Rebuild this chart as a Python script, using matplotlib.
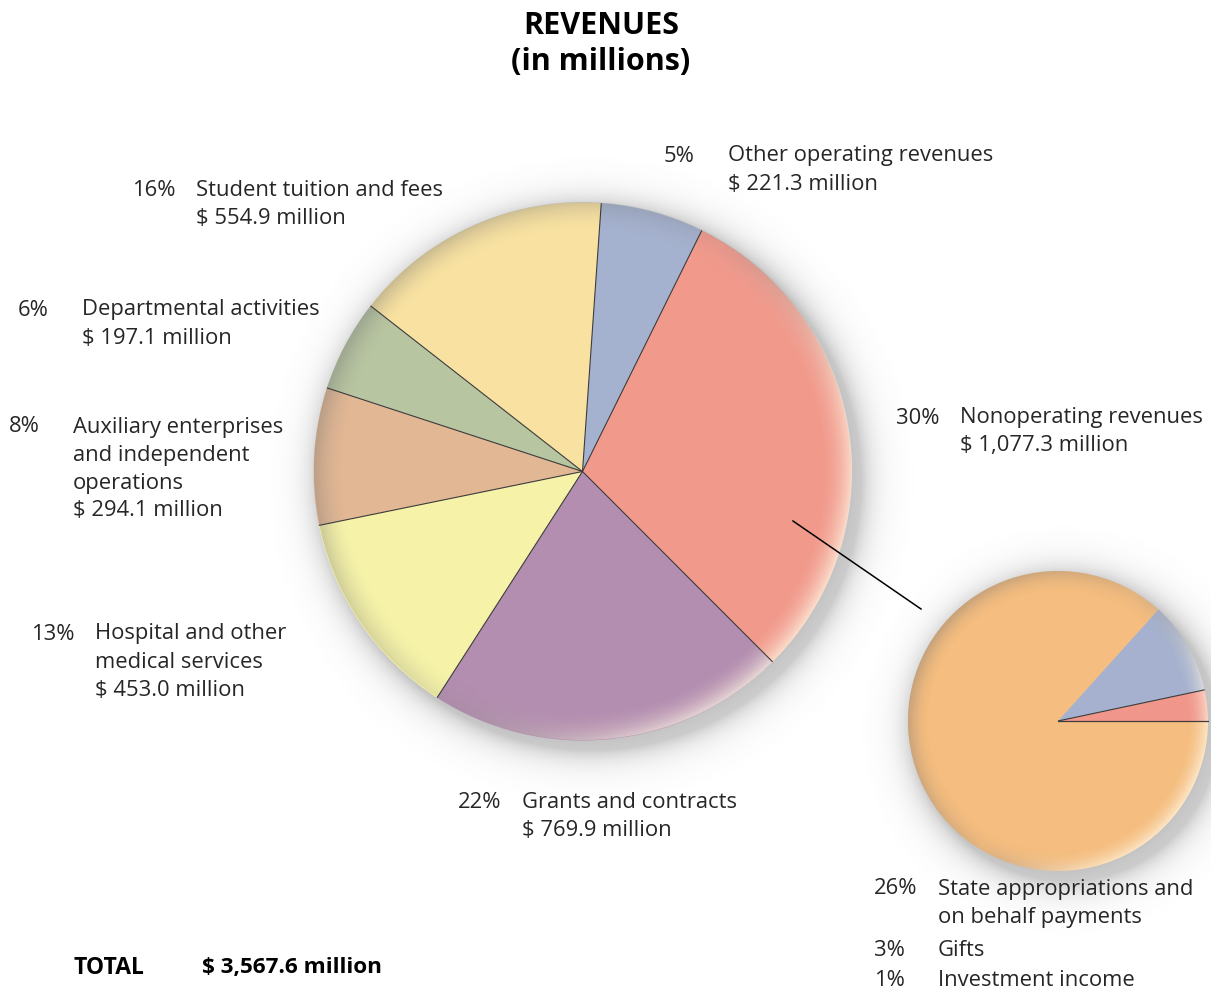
import matplotlib.pyplot as plt
import numpy as np

# main pie, clockwise from the top
names = ['Other operating revenues', 'Nonoperating revenues', 'Grants and contracts',
         'Hospital and other\nmedical services', 'Auxiliary enterprises\nand independent\noperations',
         'Departmental activities', 'Student tuition and fees']
values = [221.3, 1077.3, 769.9, 453.0, 294.1, 197.1, 554.9]
pcts = [5, 30, 22, 13, 8, 6, 16]
colors = ['#a5b2cf', '#f19a8c', '#b48eb0', '#f6f3a9', '#e1b794', '#b8c5a1', '#f9e2a1']

# breakdown of nonoperating revenues, counterclockwise from 3 o'clock
sub_names = ['Investment income', 'Gifts', 'State appropriations and\non behalf payments']
sub_pcts = [1, 3, 26]
sub_colors = ['#f0968a', '#a5b1ce', '#f5bd7f']

total = 3567.6

W, H = 1211, 993
fig = plt.figure(figsize=(W / 100, H / 100), dpi=100)
ax = fig.add_axes([0, 0, 1, 1])

FONT = ['Open Sans', 'DejaVu Sans']
BOLD = ['Open Sans', 'DejaVu Sans']
TXT = '#262626'
FS = 15.8


def shade(cx, cy, R, light=(1.0, -0.6), rimw=30):
    # soft drop shadow below the pie and a lit / dark rim on top of it
    pad = 70
    x0, x1 = cx - R - pad, cx + R + pad
    y0, y1 = cy - R - pad, cy + R + pad
    xs = np.arange(x0, x1, 1.0) + 0.5
    ys = np.arange(y0, y1, 1.0) + 0.5
    X, Y = np.meshgrid(xs, ys)

    # shadow, offset to lower right, plus a faint halo all round
    d2 = np.hypot(X - cx - 9, Y - cy + 10) - R
    sa = 0.38 * np.exp(-np.clip(d2, 0, None) / 18.0) * np.clip(1 - d2 / 65.0, 0, 1)
    d0 = np.hypot(X - cx, Y - cy) - R
    halo = 0.14 * np.exp(-np.clip(d0, 0, None) / 10.0)
    sh = np.zeros(X.shape + (4,))
    sh[..., :3] = 0.5
    sh[..., 3] = 1 - (1 - sa) * (1 - halo)
    ax.imshow(sh, extent=[x0, x1, y0, y1], origin='lower', zorder=1, interpolation='bilinear')

    # rim
    dx, dy = X - cx, Y - cy
    dist = np.hypot(dx, dy)
    lx, ly = light
    ln = np.hypot(lx, ly)
    t = (dx * lx + dy * ly) / (np.maximum(dist, 1e-6) * ln)
    e = np.clip((dist - (R - rimw)) / rimw, 0, 1) ** 1.8
    inside = np.clip((R - dist) + 0.5, 0, 1)
    s = np.clip((t + 0.2) / 1.0, 0, 1)
    s = s * s * (3 - 2 * s)
    rim = np.zeros(X.shape + (4,))
    rim[..., 0] = 0.45 + 0.55 * s
    rim[..., 1] = 0.45 + 0.52 * s
    rim[..., 2] = 0.45 + 0.45 * s
    rim[..., 3] = e * (0.14 + 0.6 * np.abs(t) ** 0.8 * np.where(t > 0, 1.0, 0.4)) * inside
    ax.imshow(rim, extent=[x0, x1, y0, y1], origin='lower', zorder=3, interpolation='bilinear')


def dividers(wedges, cx, cy, R):
    for w in wedges:
        a = np.deg2rad(w.theta1)
        ax.plot([cx, cx + R * np.cos(a)], [cy, cy + R * np.sin(a)],
                color='#3c3c3c', lw=0.8, zorder=4, solid_capstyle='butt')


# main pie
cx, cy, R = 582.5, H - 471.5, 269
wedges, _ = ax.pie(values, colors=colors, startangle=86, counterclock=False,
                   center=(cx, cy), radius=R, wedgeprops=dict(linewidth=0, zorder=2))
shade(cx, cy, R)
dividers(wedges, cx, cy, R)

# nonoperating breakdown
scx, scy, sR = 1058, H - 721, 150
swedges, _ = ax.pie(sub_pcts, colors=sub_colors, startangle=0, counterclock=True,
                    center=(scx, scy), radius=sR, wedgeprops=dict(linewidth=0, zorder=2))
shade(scx, scy, sR, rimw=22)
dividers(swedges[:2], scx, scy, sR)
ax.plot([scx, scx + sR], [scy, scy], color='#3c3c3c', lw=0.8, zorder=4)

# connector between the pies
ax.plot([793, 921], [H - 521, H - 609], color='black', lw=1.1, zorder=5)

# labels: (x of the text, y of first line) in pixels
label_pos = [(728, 156), (960, 418), (522, 802), (95, 634), (73, 427), (82, 310), (196, 190)]
LINE = 28
for name, val, p, (lx, ly) in zip(names, values, pcts, label_pos):
    lines = name.split('\n') + ['$ {:,.1f} million'.format(val)]
    ax.text(lx - 64, H - ly, '{}%'.format(p), fontsize=FS, family=FONT, color=TXT,
            ha='left', va='center')
    for i, s in enumerate(lines):
        ax.text(lx, H - ly - i * LINE, s, fontsize=FS, family=FONT, color=TXT,
                ha='left', va='center')

sub_pos = [(938, 981), (938, 950), (938, 889)]
for name, p, (lx, ly) in zip(sub_names, sub_pcts, sub_pos):
    ax.text(lx - 64, H - ly, '{}%'.format(p), fontsize=FS, family=FONT, color=TXT,
            ha='left', va='center')
    for i, s in enumerate(name.split('\n')):
        ax.text(lx, H - ly - i * LINE, s, fontsize=FS, family=FONT, color=TXT,
                ha='left', va='center')

# title and total
ax.text(601, H - 26, 'REVENUES', fontsize=22, fontweight='bold', family=BOLD,
        color='black', ha='center', va='center')
ax.text(601, H - 62, '(in millions)', fontsize=22, fontweight='bold', family=BOLD,
        color='black', ha='center', va='center')
ax.text(73, H - 968, 'TOTAL', fontsize=16.5, fontweight='bold', family=BOLD,
        color='black', ha='left', va='center')
ax.text(202, H - 968, '$ {:,.1f} million'.format(total), fontsize=16.2, fontweight='bold',
        family=BOLD, color='black', ha='left', va='center')

ax.set_xlim(0, W)
ax.set_ylim(0, H)
ax.set_aspect('equal')
ax.axis('off')
fig.savefig('out.png', dpi=100, facecolor='white')
